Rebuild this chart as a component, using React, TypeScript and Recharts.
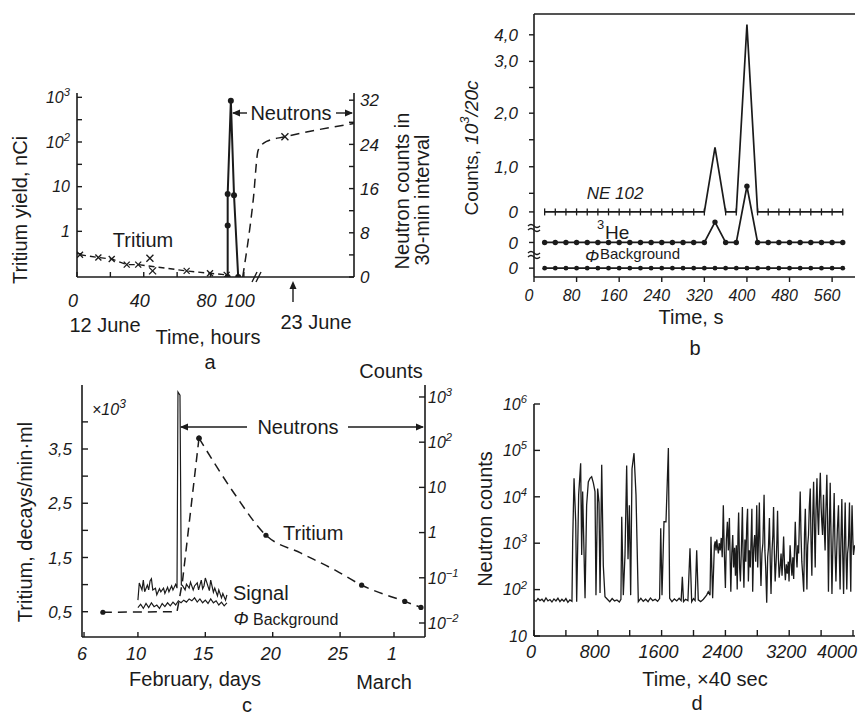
import React from "react";
import { LineChart, Line, XAxis, YAxis, ReferenceArea, ReferenceLine } from "recharts";

const FONT = '"Liberation Sans", Arial, Helvetica, sans-serif';
const INK = "#1b1b1b";
const AXIS = { stroke: INK, strokeWidth: 1.6 };

// (a) June run: tritium yield (log, nCi) and neutron counts per 30 min
const A_TRITIUM_HOURS = [1.8, 12.8, 20.8, 29.8, 36.7, 65.7, 79.7, 89.7];
const A_TRITIUM_NCI = [0.3, 0.26, 0.24, 0.18, 0.18, 0.13, 0.115, 0.106];
const A_SCATTER_HOURS = [43.7, 45.3];
const A_SCATTER_NCI = [0.25, 0.13];
const A_LATE_HOURS = [99.3, 105.6, 108.6, 113.6, 124.6, 165.9];
const A_LATE_NCI = [0.095, 5, 66, 103, 131, 260];
const A_NEUTRON_HOURS = [90.3, 90.3, 90.3, 92.2, 94.1, 96.6];
const A_NEUTRON_COUNTS = [0, 9.3, 15.0, 31.9, 14.8, 0];
const A_HOUR_TICKS = [0, 20, 40, 60, 80, 100];
const A_HOUR_LABELS = ["0", "", "40", "", "80", "100"];
const A_LOG_TICKS = [0.316, 1, 3.16, 10, 31.6, 100, 316, 1000];
const A_LOG_LABELS = ["", "1", "", "10", "", "10^2", "", "10^3"];
const A_COUNT_TICKS = [0, 4, 8, 12, 16, 20, 24, 28, 32];
const A_COUNT_LABELS = ["0", "", "8", "", "16", "", "24", "", "32"];

// (b) counts per 20 s, three detectors (stacked baselines)
const B_TIME = [20, 40, 60, 80, 100, 120, 140, 160, 180, 200, 220, 240, 260, 280, 300, 320, 340, 360, 380, 400, 420, 440, 460, 480, 500, 520, 540, 560, 580];
const B_NE102 = [0, 0, 0, 0, 0, 0, 0, 0, 0, 0, 0, 0, 0, 0, 0, 0, 1.46, 0, 0, 4.23, 0, 0, 0, 0, 0, 0, 0, 0, 0];
const B_HE3 = [0, 0, 0, 0, 0, 0, 0, 0, 0, 0, 0, 0, 0, 0, 0, 0, 0.46, 0, 0, 1.27, 0, 0, 0, 0, 0, 0, 0, 0, 0];
const B_BACKGROUND = [0, 0, 0, 0, 0, 0, 0, 0, 0, 0, 0, 0, 0, 0, 0, 0, 0, 0, 0, 0, 0, 0, 0, 0, 0, 0, 0, 0, 0];
const B_HE3_OFFSET = -0.69;
const B_BG_OFFSET = -1.27;
const B_TIME_TICKS = [0, 80, 160, 240, 320, 400, 480, 560];
const B_Y_TICKS = [-1.27, -0.69, 0, 0.42, 1.02, 1.63, 2.23, 2.81, 3.4, 4.0];
const B_Y_LABELS = ["0", "0", "0", "", "1,0", "", "2,0", "", "3,0", "4,0"];

// (c) February run: tritium (x10^3 decays/min·ml) and counts (log)
const C_TRIT_DAY = [7.4, 12.9, 13.3, 14.53, 17.15, 19.5, 22.1, 24.6, 26.6, 29.8, 31.0];
const C_TRIT_VAL = [0.49, 0.5, 1.05, 3.7, 2.68, 1.91, 1.58, 1.27, 0.99, 0.69, 0.58];
const C_TRIT_MEASURED = [true, false, false, true, false, true, false, false, true, true, true];
const C_SIGNAL_DAY = [10.0, 10.1, 10.3, 10.4, 10.5, 10.7, 10.8, 10.9, 11.0, 11.1, 11.3, 11.4, 11.6, 11.7, 11.9, 12.0, 12.2, 12.3, 12.5, 12.6, 12.8, 12.9, 12.97, 13.12, 13.22, 13.3, 13.5, 13.6, 13.8, 13.9, 14.1, 14.2, 14.4, 14.5, 14.7, 14.8, 14.9, 15.0, 15.1, 15.3, 15.4, 15.6, 15.7, 15.9, 16.0, 16.2, 16.3, 16.5, 16.6];
const C_SIGNAL_CNT = [0.032, 0.077, 0.054, 0.089, 0.049, 0.069, 0.054, 0.085, 0.095, 0.054, 0.059, 0.042, 0.057, 0.049, 0.059, 0.045, 0.062, 0.049, 0.066, 0.054, 0.072, 0.059, 1290, 1100, 0.07, 0.068, 0.054, 0.072, 0.059, 0.08, 0.054, 0.066, 0.077, 0.054, 0.089, 0.057, 0.066, 0.099, 0.08, 0.052, 0.089, 0.048, 0.059, 0.04, 0.054, 0.036, 0.045, 0.032, 0.042];
const C_BG_DAY = [10.0, 10.2, 10.4, 10.6, 10.8, 11.0, 11.2, 11.4, 11.6, 11.8, 12.0, 12.2, 12.4, 12.6, 12.8, 13.0, 13.2, 13.4, 13.6, 13.8, 14.0, 14.2, 14.4, 14.6, 14.8, 15.0, 15.2, 15.4, 15.6, 15.8, 16.0, 16.2, 16.4, 16.6];
const C_BG_CNT = [0.022, 0.026, 0.021, 0.027, 0.022, 0.028, 0.023, 0.025, 0.021, 0.027, 0.023, 0.028, 0.024, 0.029, 0.025, 0.031, 0.028, 0.032, 0.029, 0.034, 0.031, 0.036, 0.029, 0.034, 0.028, 0.032, 0.027, 0.034, 0.028, 0.031, 0.025, 0.029, 0.024, 0.028];
const C_DAY_TICKS = [6, 10, 15, 20, 25, 29];
const C_DAY_LABELS = ["6", "10", "15", "20", "25", "1"];
const C_TRIT_TICKS = [0.5, 1, 1.5, 2, 2.5, 3, 3.5, 4];
const C_TRIT_LABELS = ["0,5", "", "1,5", "", "2,5", "", "3,5", ""];
const C_COUNT_TICKS = [0.01, 0.1, 1, 10, 100, 1000];
const C_COUNT_LABELS = ["10^\u22122", "10^\u22121", "1", "10", "10^2", "10^3"];

// (d) neutron counts, time in units of 40 s: [time, counts]
const D_TRACE: [number, number][] = [
  [0, 60], [25, 56], [50, 64], [75, 58], [100, 62], [125, 55], [150, 66], [175, 57], [200, 61], [225, 54],
  [250, 63], [275, 57], [300, 65], [325, 55], [350, 62], [375, 56], [400, 64], [425, 53], [450, 60], [476, 56],
  [485, 1070], [502, 25000], [523, 2900], [535, 55], [560, 11000], [585, 53000], [598, 560], [610, 13000],
  [627, 650], [640, 65], [660, 6600], [681, 21000], [702, 25000], [723, 27000], [744, 20000], [765, 13000],
  [777, 76], [798, 15000], [815, 7500], [828, 85], [849, 49000], [869, 330], [890, 70],
  [920, 62], [950, 55], [980, 64], [1010, 57], [1040, 60], [1070, 54], [1090, 62],
  [1100, 3700], [1120, 76], [1141, 560], [1162, 47000], [1179, 450], [1196, 6600], [1212, 76], [1229, 40000],
  [1254, 87000], [1279, 11000], [1308, 55],
  [1340, 65], [1370, 56], [1400, 62], [1430, 55], [1460, 66], [1490, 58], [1520, 62], [1550, 56], [1575, 64],
  [1589, 2100], [1605, 76], [1630, 2900], [1655, 2900], [1685, 112000], [1701, 65],
  [1730, 55], [1760, 63], [1790, 57], [1820, 65], [1845, 58], [1860, 190], [1875, 55], [1900, 62], [1930, 58],
  [1956, 780], [1977, 55], [2000, 64], [2020, 58], [2040, 700], [2060, 60], [2090, 55], [2124, 62], [2165, 76],
  [2185, 90], [2207, 76], [2219, 1380], [2240, 65],
  [2262, 900], [2272, 1100], [2282, 700], [2292, 1200], [2302, 800], [2312, 600], [2322, 1000], [2335, 700],
  [2348, 1300], [2360, 500], [2374, 6600], [2384, 900], [2392, 300], [2400, 108], [2412, 1200], [2425, 2900],
  [2437, 700], [2450, 3500], [2460, 400], [2468, 90], [2480, 600], [2492, 1500], [2503, 300], [2515, 800],
  [2526, 200], [2537, 900], [2548, 100], [2558, 1500], [2566, 4600], [2578, 300], [2588, 150], [2600, 700],
  [2613, 6000], [2622, 500], [2632, 110], [2645, 1200], [2656, 400], [2668, 2500], [2678, 5500], [2688, 150],
  [2700, 700], [2712, 300], [2722, 1200], [2732, 5500], [2742, 90], [2755, 800], [2767, 1500], [2780, 400],
  [2793, 6600], [2805, 300], [2815, 1200], [2826, 7500], [2836, 500], [2846, 120], [2858, 600], [2870, 1000],
  [2885, 11000], [2895, 700], [2905, 300], [2918, 52], [2930, 500], [2940, 800], [2952, 3500], [2962, 400],
  [2972, 80], [2985, 700], [2995, 1500], [3004, 6000], [3014, 600], [3024, 150], [3036, 400], [3046, 1200],
  [3054, 5000], [3064, 500], [3074, 180], [3086, 300], [3098, 600], [3110, 200], [3120, 500], [3130, 1400],
  [3142, 300], [3152, 160], [3164, 350], [3176, 220], [3188, 400], [3198, 150], [3211, 900], [3222, 400],
  [3234, 200], [3246, 500], [3256, 170], [3266, 700], [3276, 2900], [3288, 600], [3298, 300], [3308, 900],
  [3318, 600], [3328, 3000], [3338, 13000], [3348, 1500], [3358, 400], [3370, 200], [3382, 90], [3392, 1500],
  [3402, 5500], [3412, 800], [3422, 100], [3432, 900], [3442, 1500], [3452, 6000], [3464, 15000], [3474, 1000],
  [3484, 200], [3494, 3000], [3506, 21000], [3516, 2000], [3526, 300], [3536, 5000], [3548, 25000], [3558, 4000],
  [3568, 1500], [3578, 8000], [3590, 33000], [3600, 6000], [3608, 3000], [3618, 1500], [3630, 11000], [3640, 2000],
  [3650, 700], [3660, 5000], [3672, 30000], [3682, 3000], [3692, 90], [3702, 1500], [3714, 20000], [3724, 1500],
  [3736, 80], [3748, 1000], [3764, 12000], [3774, 800], [3786, 150], [3796, 700], [3804, 2000], [3818, 6600],
  [3828, 600], [3838, 100], [3848, 1000], [3860, 9000], [3870, 700], [3882, 80], [3892, 1200], [3902, 7500],
  [3912, 600], [3922, 100], [3932, 600], [3942, 900], [3956, 7500], [3964, 500], [3972, 90], [3980, 1500],
  [3988, 6600], [3998, 1200], [4006, 560], [4020, 900],
];
const D_TIME_TICKS = [0, 400, 800, 1200, 1600, 2000, 2400, 2800, 3200, 3600, 4000];
const D_TIME_LABELS = ["0", "", "800", "", "1600", "", "2400", "", "3200", "", "4000"];
const D_COUNT_TICKS = [10, 100, 1000, 10000, 100000, 1000000];
const D_COUNT_LABELS = ["10", "10^2", "10^3", "10^4", "10^5", "10^6"];

function pairs(xs: number[], ys: number[]) {
  return xs.map((x, i) => ({ x, y: ys[i] }));
}

function labelFor(ticks: number[], labels: string[]) {
  return (v: number) => {
    const i = ticks.findIndex((t) => Math.abs(t - v) < 1e-6 * Math.max(1, Math.abs(t)));
    return i >= 0 ? labels[i] : "";
  };
}

function Sup({ s, size }: { s: string; size: number }) {
  const i = s.indexOf("^");
  if (i < 0) return <>{s}</>;
  return (
    <>
      {s.slice(0, i)}
      <tspan dy={-size * 0.42} fontSize={size * 0.7}>
        {s.slice(i + 1)}
      </tspan>
    </>
  );
}

type TickCfg = {
  side: "left" | "right" | "bottom";
  label: (v: number) => string;
  len: number; // >0 inward, <0 outward
  gap: number;
  size: number;
  dx?: number;
  maxRight?: number; // keep bottom labels inside the svg
};

// ticks drawn by hand so marks can point into the frame
function makeTick(cfg: TickCfg) {
  return (p: any) => {
    const x = Number(p.x);
    const y = Number(p.y);
    const text = cfg.label(p.payload?.value);
    const dx = cfg.dx ?? 0;
    const tstyle = { fontFamily: FONT, fontStyle: "italic" as const, fontSize: cfg.size, fill: INK };
    if (cfg.side === "bottom") {
      let tx = x + dx;
      let anchor: "middle" | "end" = "middle";
      const half = (text.length * cfg.size * 0.56) / 2;
      if (cfg.maxRight != null && tx + half > cfg.maxRight) {
        tx = cfg.maxRight;
        anchor = "end";
      }
      return (
        <g>
          <line x1={x} x2={x} y1={y} y2={y - cfg.len} stroke={INK} strokeWidth={1.4} />
          {text ? (
            <text x={tx} y={y + cfg.gap} textAnchor={anchor} {...tstyle}>
              <Sup s={text} size={cfg.size} />
            </text>
          ) : null}
        </g>
      );
    }
    const dir = cfg.side === "left" ? 1 : -1;
    return (
      <g>
        <line x1={x} x2={x + dir * cfg.len} y1={y} y2={y} stroke={INK} strokeWidth={1.4} />
        {text ? (
          <text x={x - dir * cfg.gap + dx} y={y + cfg.size * 0.36} textAnchor={dir > 0 ? "end" : "start"} {...tstyle}>
            <Sup s={text} size={cfg.size} />
          </text>
        ) : null}
      </g>
    );
  };
}

const crossDot = (r: number) => (p: any) => {
  const { cx, cy, index } = p;
  if (cx == null || cy == null) return <g key={`x${index}`} />;
  return (
    <g key={`x${index}`} stroke={INK} strokeWidth={1.3}>
      <line x1={cx - r} y1={cy - r} x2={cx + r} y2={cy + r} />
      <line x1={cx - r} y1={cy + r} x2={cx + r} y2={cy - r} />
    </g>
  );
};

const roundDot = (r: number) => (p: any) => {
  const { cx, cy, index } = p;
  if (cx == null || cy == null) return <g key={`o${index}`} />;
  return <circle key={`o${index}`} cx={cx} cy={cy} r={r} fill={INK} />;
};

const plusDot = (p: any) => {
  const { cx, cy, index, payload } = p;
  if (cx == null || cy == null || payload?.ne > 0) return <g key={`p${index}`} />;
  return <line key={`p${index}`} x1={cx} x2={cx} y1={cy - 3.5} y2={cy + 3.5} stroke={INK} strokeWidth={1.3} />;
};

function PanelA() {
  const tritium = pairs(A_TRITIUM_HOURS, A_TRITIUM_NCI);
  const scatter = pairs(A_SCATTER_HOURS, A_SCATTER_NCI);
  const late = pairs(A_LATE_HOURS, A_LATE_NCI);
  const neutrons = pairs(A_NEUTRON_HOURS, A_NEUTRON_COUNTS);
  const lateMark = (p: any) => (p.index === 4 ? crossDot(3.5)(p) : <g key={`l${p.index}`} />);
  return (
    <LineChart width={430} height={300} margin={{ top: 33, right: 0, bottom: 53, left: 0 }}>
      <XAxis dataKey="x" type="number" domain={[0, 166]} allowDataOverflow ticks={A_HOUR_TICKS} interval={0}
        height={30} tickSize={0} tickMargin={0} tickLine={false} axisLine={AXIS}
        tick={makeTick({ side: "bottom", label: labelFor(A_HOUR_TICKS, A_HOUR_LABELS), len: 5, gap: 30, size: 18, dx: -4 })} />
      <YAxis yAxisId="log" type="number" scale="log" domain={[0.095, 1250]} allowDataOverflow ticks={A_LOG_TICKS}
        interval={0} width={77} tickSize={0} tickMargin={0} tickLine={false} axisLine={AXIS}
        tick={makeTick({ side: "left", label: labelFor(A_LOG_TICKS, A_LOG_LABELS), len: 5, gap: 7, size: 16 })} />
      <YAxis yAxisId="cnt" orientation="right" type="number" domain={[0, 33.3]} allowDataOverflow ticks={A_COUNT_TICKS}
        interval={0} width={76} tickSize={0} tickMargin={0} tickLine={false} axisLine={AXIS}
        tick={makeTick({ side: "right", label: labelFor(A_COUNT_TICKS, A_COUNT_LABELS), len: 5, gap: 6, size: 17 })} />
      <ReferenceArea yAxisId="cnt" fill="none" stroke={INK} strokeWidth={1.6} />
      <Line yAxisId="log" data={tritium} dataKey="y" type="linear" stroke={INK} strokeWidth={1.4}
        strokeDasharray="6 4" dot={crossDot(3)} activeDot={false} isAnimationActive={false} />
      <Line yAxisId="log" data={scatter} dataKey="y" type="linear" stroke="none"
        dot={crossDot(3.5)} activeDot={false} isAnimationActive={false} />
      <Line yAxisId="log" data={late} dataKey="y" type="monotone" stroke={INK} strokeWidth={1.5}
        strokeDasharray="9 6" dot={lateMark} activeDot={false} isAnimationActive={false} />
      <Line yAxisId="cnt" data={neutrons} dataKey="y" type="linear" stroke={INK} strokeWidth={2}
        dot={roundDot(3)} activeDot={false} isAnimationActive={false} />
    </LineChart>
  );
}

function PanelB() {
  const data = B_TIME.map((t, i) => ({
    t,
    ne: B_NE102[i],
    he: B_HE3[i] + B_HE3_OFFSET,
    bg: B_BACKGROUND[i] + B_BG_OFFSET,
  }));
  return (
    <LineChart width={429} height={360} data={data} margin={{ top: 14, right: 4, bottom: 53, left: 0 }}>
      <XAxis dataKey="t" type="number" domain={[0, 603]} allowDataOverflow ticks={B_TIME_TICKS} interval={0}
        height={30} tickSize={0} tickMargin={0} tickLine={false} axisLine={AXIS}
        tick={makeTick({ side: "bottom", label: (v) => String(v), len: -5, gap: 24, size: 16, dx: -5 })} />
      <YAxis type="number" domain={[-1.47, 4.47]} allowDataOverflow ticks={B_Y_TICKS} interval={0} width={104}
        tickSize={0} tickMargin={0} tickLine={false} axisLine={AXIS}
        tick={makeTick({ side: "left", label: labelFor(B_Y_TICKS, B_Y_LABELS), len: -5, gap: 16, size: 17 })} />
      <ReferenceLine y={4.47} stroke={INK} strokeWidth={1.6} />
      <Line dataKey="ne" type="linear" stroke={INK} strokeWidth={1.7} dot={plusDot} activeDot={false} isAnimationActive={false} />
      <Line dataKey="he" type="linear" stroke={INK} strokeWidth={1.7} dot={roundDot(2.7)} activeDot={false} isAnimationActive={false} />
      <Line dataKey="bg" type="linear" stroke={INK} strokeWidth={1.7} dot={roundDot(2.4)} activeDot={false} isAnimationActive={false} />
    </LineChart>
  );
}

function PanelC() {
  const trit = pairs(C_TRIT_DAY, C_TRIT_VAL).map((d, i) => ({ ...d, m: C_TRIT_MEASURED[i] }));
  const rise = trit.slice(0, 4);
  const decay = trit.slice(3);
  const signal = pairs(C_SIGNAL_DAY, C_SIGNAL_CNT);
  const bg = pairs(C_BG_DAY, C_BG_CNT);
  const measuredDot = (p: any) => (p.payload?.m ? roundDot(2.6)(p) : <g key={`m${p.index}`} />);
  return (
    <LineChart width={480} height={358} margin={{ top: 25, right: 0, bottom: 51, left: 0 }}>
      <XAxis dataKey="x" type="number" domain={[5.85, 31.3]} allowDataOverflow ticks={C_DAY_TICKS} interval={0}
        height={30} tickSize={0} tickMargin={0} tickLine={false} axisLine={AXIS}
        tick={makeTick({ side: "bottom", label: labelFor(C_DAY_TICKS, C_DAY_LABELS), len: 5, gap: 23, size: 18, dx: -2 })} />
      <YAxis yAxisId="trit" type="number" domain={[0.034, 4.68]} allowDataOverflow ticks={C_TRIT_TICKS} interval={0}
        width={82} tickSize={0} tickMargin={0} tickLine={false} axisLine={AXIS}
        tick={makeTick({ side: "left", label: labelFor(C_TRIT_TICKS, C_TRIT_LABELS), len: 6, gap: 10, size: 17 })} />
      <YAxis yAxisId="cnt" orientation="right" type="number" scale="log" domain={[0.0049, 1840]} allowDataOverflow
        ticks={C_COUNT_TICKS} interval={0} width={55} tickSize={0} tickMargin={0} tickLine={false} axisLine={AXIS}
        tick={makeTick({ side: "right", label: labelFor(C_COUNT_TICKS, C_COUNT_LABELS), len: 6, gap: 3, size: 16 })} />
      <ReferenceArea yAxisId="trit" fill="none" stroke={INK} strokeWidth={1.6} />
      <Line yAxisId="cnt" data={bg} dataKey="y" type="linear" stroke={INK} strokeWidth={1.2}
        dot={false} activeDot={false} isAnimationActive={false} />
      <Line yAxisId="cnt" data={signal} dataKey="y" type="linear" stroke={INK} strokeWidth={1.2}
        dot={false} activeDot={false} isAnimationActive={false} />
      <Line yAxisId="trit" data={rise} dataKey="y" type="linear" stroke={INK} strokeWidth={1.5}
        strokeDasharray="9 6" dot={measuredDot} activeDot={false} isAnimationActive={false} />
      <Line yAxisId="trit" data={decay} dataKey="y" type="monotone" stroke={INK} strokeWidth={1.5}
        strokeDasharray="9 6" dot={measuredDot} activeDot={false} isAnimationActive={false} />
    </LineChart>
  );
}

function PanelD() {
  const data = D_TRACE.map(([t, n]) => ({ t, n }));
  return (
    <LineChart width={429} height={358} data={data} margin={{ top: 44, right: 4, bottom: 52, left: 0 }}>
      <XAxis dataKey="t" type="number" domain={[0, 4025]} allowDataOverflow ticks={D_TIME_TICKS} interval={0}
        height={30} tickSize={0} tickMargin={0} tickLine={false} axisLine={AXIS}
        tick={makeTick({ side: "bottom", label: labelFor(D_TIME_TICKS, D_TIME_LABELS), len: 6, gap: 22, size: 18, dx: -3, maxRight: 427 })} />
      <YAxis type="number" scale="log" domain={[10, 1000000]} allowDataOverflow ticks={D_COUNT_TICKS} interval={0}
        width={104} tickSize={0} tickMargin={0} tickLine={false} axisLine={AXIS}
        tick={makeTick({ side: "left", label: labelFor(D_COUNT_TICKS, D_COUNT_LABELS), len: 6, gap: 7, size: 16 })} />
      <ReferenceArea fill="none" stroke={INK} strokeWidth={1.6} />
      <Line dataKey="n" type="linear" stroke={INK} strokeWidth={1.3} dot={false} activeDot={false} isAnimationActive={false} />
    </LineChart>
  );
}

function Head({ x, y, dir }: { x: number; y: number; dir: "left" | "right" | "up" }) {
  const pts =
    dir === "left"
      ? `${x},${y} ${x + 8},${y - 3.5} ${x + 8},${y + 3.5}`
      : dir === "right"
      ? `${x},${y} ${x - 8},${y - 3.5} ${x - 8},${y + 3.5}`
      : `${x},${y} ${x - 3.5},${y + 8} ${x + 3.5},${y + 8}`;
  return <polygon points={pts} fill={INK} />;
}

function T(props: any) {
  const { children, size = 20, italic, rot, ...rest } = props;
  const tr = rot ? `rotate(-90 ${rest.x} ${rest.y})` : undefined;
  return (
    <text fontFamily={FONT} fontSize={size} fill={INK} fontStyle={italic ? "italic" : "normal"} transform={tr} {...rest}>
      {children}
    </text>
  );
}

function Overlay() {
  return (
    <svg width={859} height={718} style={{ position: "absolute", left: 0, top: 0, pointerEvents: "none" }}>
      {/* a */}
      <T x={20} y={210} rot textAnchor="middle" dominantBaseline="central">Tritium yield, nCi</T>
      <T x={402} y={191} rot textAnchor="middle" dominantBaseline="central">Neutron counts in</T>
      <T x={422} y={200} rot textAnchor="middle" dominantBaseline="central">30-min interval</T>
      <line x1={233} x2={247} y1={113} y2={113} stroke={INK} strokeWidth={1.4} />
      <Head x={232} y={113} dir="left" />
      <T x={291} y={120} textAnchor="middle">Neutrons</T>
      <line x1={336} x2={352} y1={113} y2={113} stroke={INK} strokeWidth={1.4} />
      <Head x={353} y={113} dir="right" />
      <T x={143} y={247} textAnchor="middle">Tritium</T>
      <T x={105} y={332} textAnchor="middle">12 June</T>
      <T x={208} y={344} textAnchor="middle">Time, hours</T>
      <T x={316} y={329} textAnchor="middle">23 June</T>
      <line x1={293} x2={293} y1={288} y2={302} stroke={INK} strokeWidth={1.4} />
      <Head x={293} y={281} dir="up" />
      <line x1={252} x2={257} y1={282} y2={272} stroke={INK} strokeWidth={1.4} />
      <line x1={256} x2={261} y1={282} y2={272} stroke={INK} strokeWidth={1.4} />
      <T x={210} y={369} textAnchor="middle">a</T>

      {/* b */}
      <T x={471} y={148} rot textAnchor="middle" dominantBaseline="central" size={19}>
        Counts,{" "}
        <tspan fontStyle="italic">10</tspan>
        <tspan fontStyle="italic" dy={-7} fontSize={13}>3</tspan>
        <tspan fontStyle="italic" dy={7}>/20c</tspan>
      </T>
      <T x={615} y={199} textAnchor="middle" size={17} italic>NE 102</T>
      <T x={597} y={229} size={13}>3</T>
      <T x={605} y={239} size={19}>He</T>
      <T x={592} y={262} textAnchor="middle" size={17} italic>Φ</T>
      <T x={600} y={259} size={15}>Background</T>
      <T x={691} y={324} textAnchor="middle">Time, s</T>
      <T x={695} y={355} textAnchor="middle">b</T>
      <path d="M528,226 q3,-3 6,0 t6,0 M528,230 q3,-3 6,0 t6,0" fill="none" stroke={INK} strokeWidth={1.3} />
      <path d="M528,253 q3,-3 6,0 t6,0 M528,257 q3,-3 6,0 t6,0" fill="none" stroke={INK} strokeWidth={1.3} />

      {/* c */}
      <T x={25} y={522} rot textAnchor="middle" dominantBaseline="central">Tritium, decays/min·ml</T>
      <T x={92} y={415} size={16} italic>
        ×10<tspan dy={-7} fontSize={12}>3</tspan>
      </T>
      <line x1={181} x2={247} y1={427} y2={427} stroke={INK} strokeWidth={1.4} />
      <Head x={180} y={427} dir="left" />
      <T x={298} y={434} textAnchor="middle">Neutrons</T>
      <line x1={348} x2={423} y1={427} y2={427} stroke={INK} strokeWidth={1.4} />
      <Head x={424} y={427} dir="right" />
      <T x={283} y={540}>Tritium</T>
      <T x={233} y={600}>Signal</T>
      <T x={241} y={625} textAnchor="middle" size={18} italic>Φ</T>
      <T x={253} y={625} size={16}>Background</T>
      <T x={195} y={686} textAnchor="middle">February, days</T>
      <T x={384} y={689} textAnchor="middle">March</T>
      <T x={247} y={712} textAnchor="middle">c</T>
      <T x={391} y={378} textAnchor="middle">Counts</T>

      {/* d */}
      <T x={485} y={519} rot textAnchor="middle" dominantBaseline="central">Neutron counts</T>
      <T x={705} y={686} textAnchor="middle">Time, ×40 sec</T>
      <T x={697} y={710} textAnchor="middle">d</T>
    </svg>
  );
}

export default function App() {
  return (
    <div style={{ position: "absolute", left: 0, top: 0, width: 859, height: 718, background: "#fff", overflow: "hidden" }}>
      <div style={{ position: "absolute", left: 0, top: 60 }}>
        <PanelA />
      </div>
      <div style={{ position: "absolute", left: 430, top: 0 }}>
        <PanelB />
      </div>
      <div style={{ position: "absolute", left: 0, top: 360 }}>
        <PanelC />
      </div>
      <div style={{ position: "absolute", left: 430, top: 360 }}>
        <PanelD />
      </div>
      <Overlay />
    </div>
  );
}
